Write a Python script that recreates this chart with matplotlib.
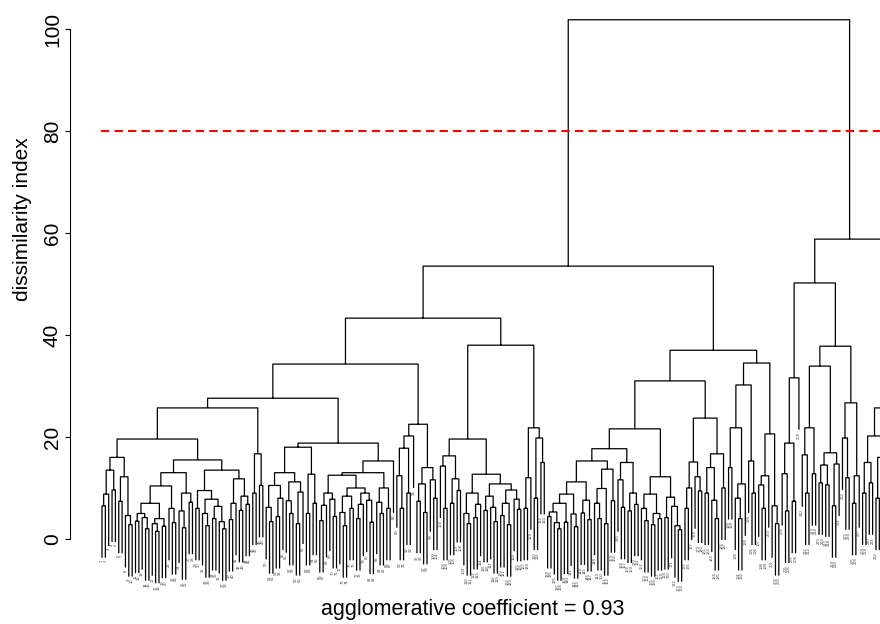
import matplotlib
matplotlib.use("Agg")
import matplotlib.pyplot as plt

plt.rcParams['font.family'] = ['Liberation Sans', 'DejaVu Sans']

# merge heights
# a node is (height, left, right), a leaf is L
L = 0

# left half, first cluster
p1a1 = (16.0, (13.5, (8.8, (6.5, L, L), L), (9.6, L, L)),
        (12.2, (7.4, L, L), (4.6, L, (2.8, L, L))))
p1a2_l = (13.0,
          (10.4, (7.0, (5.0, (3.5, L, L), (4.2, L, (2.0, L, L))),
                  (4.0, (3.0, L, (1.5, L, L)), (2.5, L, L))),
           (6.0, L, (3.2, L, L))),
          (9.0, (5.5, L, (2.2, L, L)), (7.2, L, L)))
p1a2_r = (13.5,
          (9.5, (6.0, L, L),
           (7.8, (5.0, L, (2.6, L, L)), (6.4, (4.0, L, L), (3.4, L, (2.0, L, L))))),
          (11.8, (7.0, (3.8, L, L), L), (8.4, (5.6, L, L), (6.8, L, L))))
p1b = (16.7, (9.0, L, L), (10.5, L, L))
p1 = (25.7, (19.6, p1a1, (15.5, p1a2_l, p1a2_r)), p1b)

p2a = (18.0,
       (13.0, (10.5, (6.2, L, (3.4, L, L)), (8.0, (4.4, L, L), L)),
        (11.2, (7.5, L, (5.0, L, L)), (9.2, (3.0, L, L), L))),
       (12.7, (5.0, L, L), (7.0, L, L)))
p2b_l = (12.5, (9.0, (6.6, (3.6, L, L), L), (7.8, L, (4.4, L, L))),
         (10.0, (8.4, (5.2, L, (2.6, L, L)), (6.0, L, L)),
          (9.0, (6.8, (4.0, L, L), L), (7.6, L, (3.3, L, L)))))
p2b_r = (10.0, (7.2, L, (5.0, L, L)), (6.0, L, L))
p2 = (18.8, p2a, (15.3, (13.0, p2b_l, p2b_r), L))

q = (22.5, (20.2, (17.8, (12.4, L, (6.0, L, L)), (9.0, L, L)), L),
     (14.0, (10.8, (7.4, L, L), (5.2, L, L)), (11.6, L, (8.0, L, L))))

b449 = (16.3, (14.3, L, (6.0, L, L)), (11.8, (7.0, L, L), (9.5, L, L)))
b473 = (9.0, (5.0, L, (3.0, L, L)), (6.8, (4.2, L, L), L))
b502 = (10.8, (8.4, (5.6, L, L), (6.2, L, (3.4, L, L))),
        (9.6, (7.0, (4.6, L, L), (2.8, L, L)), (7.8, L, (5.8, L, L))))
b533 = (21.8, (12.0, (6.0, L, L), L), (19.8, (8.0, L, L), (15.0, L, L)))

a1 = (43.3, (34.3, (27.6, p1, p2), q), (38.0, (19.6, b449, (12.7, b473, b502)), b533))

# left half, second cluster
c567 = (8.8, (7.0, (5.3, (4.4, L, L), (3.2, L, (2.0, L, L))), (3.3, L, L)),
        (4.9, L, (2.4, L, L)))
c581 = (7.6, (5.1, L, L), (3.8, L, L))
c607 = (13.7, (9.9, (7.0, L, (4.0, L, L)), (3.0, L, L)), (7.5, L, L))
c628 = (15.0, (11.6, L, (6.2, L, L)), (9.0, (5.5, L, L), (6.8, L, L)))
c657 = (8.8, (6.0, L, (3.6, L, L)), (5.0, (2.8, L, L), (4.0, L, L)))
c675 = (8.2, (4.2, L, L), (6.4, L, (2.6, L, (1.8, L, L))))
c693 = (15.1, (10.0, (6.0, L, L), L), (12.2, L, (9.4, L, L)))
c716 = (16.7, (14.0, (9.0, L, L), (7.6, L, (4.0, L, L))), (10.0, L, L))
c736 = (21.8, (14.0, L, L), (10.8, (8.0, L, (4.0, L, L)), L))
c750 = (15.3, L, (9.0, L, L))
c771 = (20.6, (12.4, (10.6, L, (6.0, L, L)), L), (6.5, L, (3.0, L, L)))

a2 = (37.0,
      (31.0, (21.6, (17.7, (15.3, (11.2, c567, c581), c607), c628), (12.2, c657, c675)),
       (23.7, c693, c716)),
      (34.5, (30.2, c736, c750), c771))

# right half (cut at the edge of the picture)
d788 = (18.8, (12.8, L, (5.5, L, L)), (7.4, L, L))
d808 = (21.8, (16.5, L, (9.0, L, L)), (12.8, L, L))
d830 = (16.9, (14.5, (11.0, L, L), (10.6, L, L)), (14.7, (6.5, L, L), L))
d845 = (19.8, L, (12.0, L, L))
d857 = (12.4, (7.0, L, L), L)
d868 = (15.0, (9.0, L, L), (11.0, L, L))
d880 = (16.0, (8.0, L, L), (12.0, L, (6.0, L, L)))

b = (58.8,
     (50.2, (31.6, d788, L), (37.8, (33.9, d808, d830), (26.7, d845, d857))),
     (25.7, (20.2, d868, d880), (14.0, L, L)))

tree = (101.8, (53.5, a1, a2), b)
cut_height = 80
subtitle = "agglomerative coefficient = 0.93"

hang = 0.1 * tree[0]
xs, ys = [], []
leaf_bottom = {}
count = [0]


def draw(node):
    if not isinstance(node, tuple):
        i = count[0]
        count[0] += 1
        return i, None, i
    h, left, right = node
    xl, hl, il = draw(left)
    xr, hr, ir = draw(right)
    if hl is None:
        hl = h - hang
        leaf_bottom[il] = hl
    if hr is None:
        hr = h - hang
        leaf_bottom[ir] = hr
    xs.extend([xl, xl, xr, xr, None])
    ys.extend([hl, h, h, hr, None])
    return (xl + xr) / 2, h, None


draw(tree)

xmax = 232.2
fig = plt.figure(figsize=(8.8, 6.24), dpi=100)
ax = fig.add_axes([70 / 880, 24 / 624, 810 / 880, 595 / 624])
ax.plot(xs, ys, color='black', lw=0.9, solid_capstyle='butt')

for i, yb in leaf_bottom.items():
    if i > xmax - 1:
        continue
    ax.text(i, yb - 0.4, str(i + 1), rotation=90, ha='center', va='top',
            fontsize=3, color='#444444')

ax.plot([-0.3, 240], [cut_height, cut_height], color='red', lw=1.5,
        dashes=(4, 2.5))

ax.set_xlim(-9.55, xmax)
ax.set_ylim(-11.96, 104.7)
for s in ['top', 'right', 'bottom']:
    ax.spines[s].set_visible(False)
ax.spines['left'].set_bounds(0, 100)
ax.spines['left'].set_linewidth(0.8)
ax.set_xticks([])
ax.set_yticks([0, 20, 40, 60, 80, 100])
ax.tick_params(axis='y', direction='out', length=3.8, width=0.8, labelsize=15, pad=2)
plt.setp(ax.get_yticklabels(), rotation=90, va='center')

fig.text(22 / 880, 1 - 219 / 624, "dissimilarity index", rotation=90,
         ha='center', va='center', fontsize=15)
fig.text(473 / 880, 1 - 609 / 624, subtitle, ha='center', va='center', fontsize=15.5)

fig.savefig("out.png", dpi=100)
